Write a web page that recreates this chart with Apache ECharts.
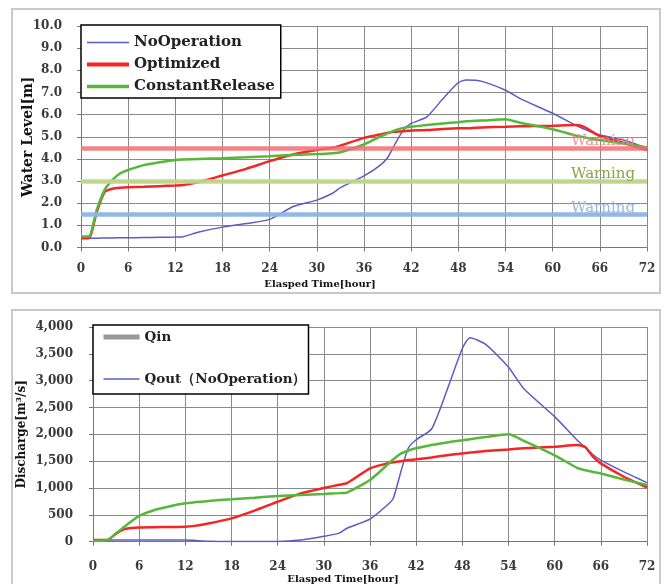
<!DOCTYPE html>
<html>
<head>
<meta charset="utf-8">
<script src="https://cdn.jsdelivr.net/npm/echarts@6/dist/echarts.min.js"></script>
<style>
html,body{margin:0;padding:0;background:#fff;}
#chart{width:669px;height:584px;}
</style>
</head>
<body>
<div id="chart"></div>
<script>
// ---- data ----
const hours = [0,1,2,3,4,5,6,8,10,12,13,15,18,21,24,27,30,32,33,36,38,39,40,41,42,44,46,48,49,51,54,56,60,63,64,65,66,69,72];

// Water level [m]
const levelNoOperation = [0.42,0.42,0.42,0.43,0.43,0.44,0.44,0.45,0.46,0.47,0.49,0.7,0.92,1.08,1.27,1.85,2.14,2.45,2.7,3.23,3.7,4.05,4.7,5.3,5.6,5.9,6.7,7.45,7.56,7.5,7.1,6.7,6.06,5.5,5.35,5.2,5.08,4.85,4.48];
const levelOptimized = [0.42,0.42,1.6,2.5,2.65,2.7,2.72,2.74,2.77,2.8,2.82,2.95,3.25,3.55,3.9,4.2,4.4,4.5,4.6,4.95,5.1,5.18,5.22,5.25,5.28,5.3,5.35,5.38,5.38,5.42,5.45,5.47,5.5,5.53,5.45,5.23,5.03,4.73,4.4];
const levelConstant = [0.5,0.5,1.7,2.6,3.05,3.35,3.5,3.72,3.85,3.95,3.97,4.0,4.03,4.07,4.12,4.18,4.22,4.26,4.3,4.65,5.0,5.15,5.3,5.4,5.45,5.53,5.6,5.66,5.7,5.73,5.79,5.62,5.34,5.05,4.98,4.9,4.85,4.7,4.52];
const warningLevels = [4.5, 3.0, 1.5];
const warningText = ['Warning', 'Warning', 'Warning'];

// Discharge [m3/s]
const qinValues = [];
const qoutNoOperation = [30,30,30,30,30,30,30,30,30,30,25,10,5,5,5,30,100,160,250,420,650,800,1300,1750,1900,2100,2820,3600,3800,3680,3250,2850,2330,1880,1750,1620,1520,1300,1100];
const qoutOptimized = [30,30,40,150,230,255,265,270,275,280,290,340,435,580,745,900,1000,1060,1090,1365,1450,1480,1500,1520,1535,1570,1610,1645,1660,1690,1720,1740,1770,1800,1760,1580,1460,1210,1010];
const qoutConstant = [20,20,40,160,270,380,480,590,660,715,730,760,790,820,850,870,890,905,915,1150,1400,1530,1640,1700,1740,1800,1850,1890,1910,1950,2000,1880,1610,1370,1330,1300,1270,1160,1055];

const levelLegend = ['NoOperation', 'Optimized', 'ConstantRelease'];
const flowLegend = ['Qin', 'Qout（NoOperation）'];
const xAxisTitle = 'Elasped Time[hour]';
const levelAxisTitle = 'Water Level[m]';
const flowAxisTitle = 'Discharge[m³/s]';

// ---- styles ----
const BLUE = '#5a5cc6', RED = '#f42525', GREEN = '#55b83a';
const warnLine = ['rgba(240,110,115,0.85)', 'rgba(190,215,135,0.95)', 'rgba(140,180,228,0.95)'];
const warnTextColor = ['rgba(240,130,135,0.85)', '#87a548', '#98b8e4'];
const serif = 'DejaVu Serif';
const pairs = arr => hours.map((h, i) => [h, arr[i]]);
const noSym = {opacity: 0};

const chart = echarts.init(document.getElementById('chart'), null, {renderer: 'canvas'});

function xAx(gridIndex, labelMargin) {
  return {
    type: 'value', gridIndex, min: 0, max: 72, interval: 6,
    axisLine: {show: true, lineStyle: {color: '#777', width: 1}},
    axisTick: {show: true, length: 4, lineStyle: {color: '#777'}},
    splitLine: {show: true, lineStyle: {color: '#8a8a8a', width: 1}},
    axisLabel: {color: '#3a3a3a', fontFamily: serif, fontWeight: 'bold', fontSize: 12, margin: labelMargin}
  };
}

const option = {
  animation: false,
  backgroundColor: '#fff',
  graphic: [
    {type: 'rect', shape: {x: 12, y: 9, width: 648, height: 284}, style: {fill: 'none', stroke: '#c9c9c9', lineWidth: 2}, z: -10},
    {type: 'rect', shape: {x: 12, y: 310, width: 648, height: 290}, style: {fill: 'none', stroke: '#c9c9c9', lineWidth: 2}, z: -10},
    {type: 'text', x: 320, y: 284, style: {text: xAxisTitle, fontFamily: serif, fontWeight: 'bold', fontSize: 10, fill: '#111', align: 'center', verticalAlign: 'middle'}},
    {type: 'text', x: 343, y: 579, style: {text: xAxisTitle, fontFamily: serif, fontWeight: 'bold', fontSize: 10, fill: '#111', align: 'center', verticalAlign: 'middle'}}
  ],
  grid: [
    {left: 81, top: 26, width: 566, height: 221.5},
    {left: 93, top: 327, width: 554, height: 214.7}
  ],
  xAxis: [xAx(0, 15), xAx(1, 19)],
  yAxis: [
    {
      type: 'value', gridIndex: 0, min: 0, max: 10, interval: 1,
      name: levelAxisTitle, nameLocation: 'middle', nameRotate: 90, nameGap: 46, nameMoveOverlap: false,
      nameTextStyle: {fontFamily: serif, fontWeight: 'bold', fontSize: 14, color: '#111'},
      axisLine: {show: true, lineStyle: {color: '#777'}},
      axisTick: {show: true, length: 4, lineStyle: {color: '#777'}},
      splitLine: {show: true, lineStyle: {color: '#8a8a8a', width: 1}},
      axisLabel: {color: '#3a3a3a', fontFamily: serif, fontWeight: 'bold', fontSize: 12, margin: 19, formatter: v => v.toFixed(1)}
    },
    {
      type: 'value', gridIndex: 1, min: 0, max: 4000, interval: 500,
      name: flowAxisTitle, nameLocation: 'middle', nameRotate: 90, nameGap: 65, nameMoveOverlap: false,
      nameTextStyle: {fontFamily: serif, fontWeight: 'bold', fontSize: 12, color: '#111'},
      axisLine: {show: true, lineStyle: {color: '#777'}},
      axisTick: {show: true, length: 4, lineStyle: {color: '#777'}},
      splitLine: {show: true, lineStyle: {color: '#8a8a8a', width: 1}},
      axisLabel: {color: '#3a3a3a', fontFamily: serif, fontWeight: 'bold', fontSize: 12, margin: 20,
        formatter: v => v.toLocaleString('en-US')}
    }
  ],
  legend: [
    {
      orient: 'vertical', left: 81, top: 25, itemWidth: 42, itemHeight: 14, itemGap: 7,
      padding: [10, 6, 4, 4], borderColor: '#000', borderWidth: 1.5, backgroundColor: '#fff',
      selectedMode: false,
      textStyle: {fontFamily: serif, fontWeight: 'bold', fontSize: 15, color: '#222'},
      data: [
        {name: levelLegend[0], itemStyle: noSym, lineStyle: {width: 1.5}},
        {name: levelLegend[1], itemStyle: noSym, lineStyle: {width: 4}},
        {name: levelLegend[2], itemStyle: noSym, lineStyle: {width: 3.5}}
      ]
    },
    {
      orient: 'vertical', left: 93, top: 325, itemWidth: 36, itemHeight: 14, itemGap: 28,
      padding: [5, 2, 8, 8], borderColor: '#000', borderWidth: 1.5, backgroundColor: '#fff',
      selectedMode: false,
      textStyle: {fontFamily: serif, fontWeight: 'bold', fontSize: 13.5, color: '#222'},
      data: [
        {name: flowLegend[0], itemStyle: noSym, lineStyle: {width: 5}},
        {name: flowLegend[1], itemStyle: noSym, lineStyle: {width: 1.5}}
      ]
    }
  ],
  series: [
    {
      name: 'warn', type: 'line', xAxisIndex: 0, yAxisIndex: 0, data: [], z: 1, silent: true,
      markLine: {
        silent: true, symbol: 'none', animation: false,
        data: warningLevels.map((v, i) => ({
          yAxis: v,
          lineStyle: {color: warnLine[i], width: 4.5, type: 'solid'},
          label: {show: true, position: 'insideEndTop', formatter: warningText[i], distance: [12, -1],
            color: warnTextColor[i], fontFamily: serif, fontSize: 15}
        }))
      }
    },
    {name: levelLegend[0], type: 'line', xAxisIndex: 0, yAxisIndex: 0, symbol: 'none', smooth: 0.2, z: 3,
      data: pairs(levelNoOperation), lineStyle: {color: BLUE, width: 1.5}, itemStyle: {color: BLUE}},
    {name: levelLegend[1], type: 'line', xAxisIndex: 0, yAxisIndex: 0, symbol: 'none', smooth: 0.2, z: 3,
      data: pairs(levelOptimized), lineStyle: {color: RED, width: 2.5}, itemStyle: {color: RED}},
    {name: levelLegend[2], type: 'line', xAxisIndex: 0, yAxisIndex: 0, symbol: 'none', smooth: 0.2, z: 3,
      data: pairs(levelConstant), lineStyle: {color: GREEN, width: 2.5}, itemStyle: {color: GREEN}},

    {name: flowLegend[0], type: 'line', xAxisIndex: 1, yAxisIndex: 1, symbol: 'none', z: 2,
      data: qinValues, lineStyle: {color: '#999', width: 5}, itemStyle: {color: '#999'}},
    {name: flowLegend[1], type: 'line', xAxisIndex: 1, yAxisIndex: 1, symbol: 'none', smooth: 0.2, z: 3,
      data: pairs(qoutNoOperation), lineStyle: {color: BLUE, width: 1.5}, itemStyle: {color: BLUE}},
    {name: 'QoutOptimized', type: 'line', xAxisIndex: 1, yAxisIndex: 1, symbol: 'none', smooth: 0.2, z: 3,
      data: pairs(qoutOptimized), lineStyle: {color: RED, width: 2.5}, itemStyle: {color: RED}},
    {name: 'QoutConstant', type: 'line', xAxisIndex: 1, yAxisIndex: 1, symbol: 'none', smooth: 0.2, z: 3,
      data: pairs(qoutConstant), lineStyle: {color: GREEN, width: 2.5}, itemStyle: {color: GREEN}}
  ]
};
chart.setOption(option);
</script>
</body>
</html>
